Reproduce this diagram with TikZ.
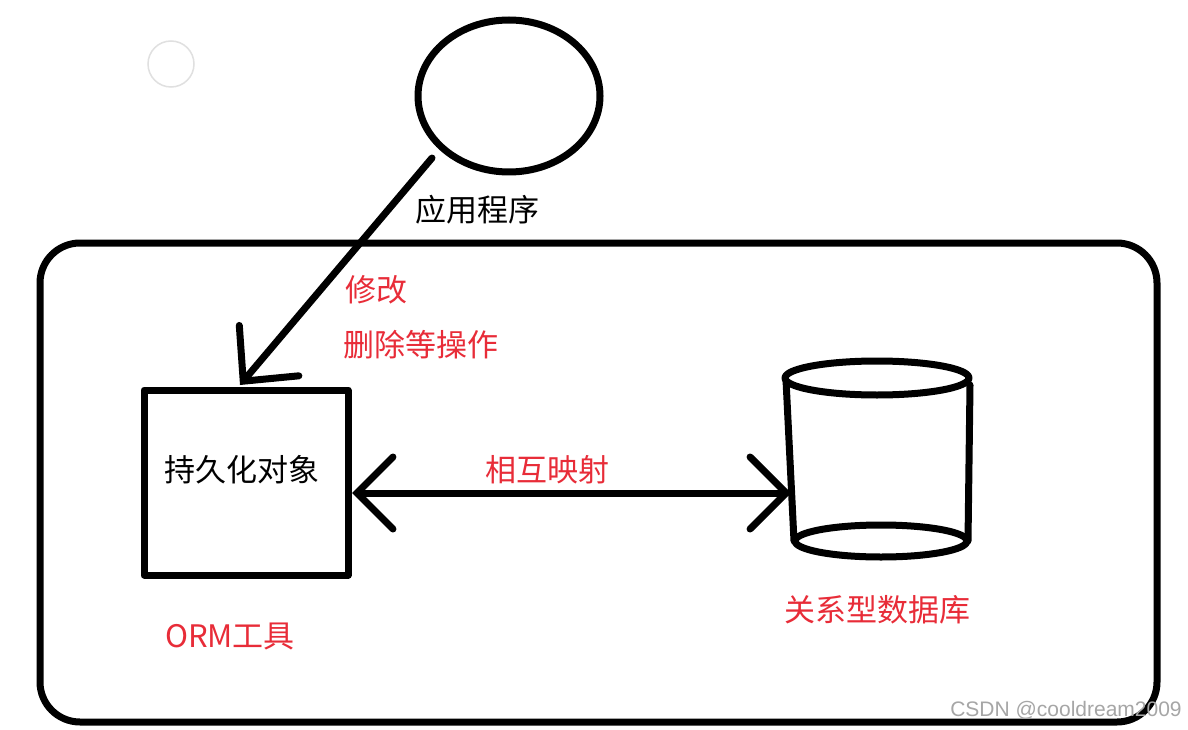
\documentclass[tikz,border=0pt]{standalone}
\usepackage{fontspec}
\newfontfamily\cjk{Noto Sans CJK SC}
\newfontfamily\wm{Liberation Sans}
\usetikzlibrary{arrows.meta,shapes.geometric}
\definecolor{inkred}{RGB}{232,44,56}
\begin{document}
\begin{tikzpicture}[x=1pt,y=-1pt,
  ink/.style={line width=7pt, line cap=round, line join=round},
  lbl/.style={font=\cjk\fontsize{31}{36}\selectfont, inner sep=0pt},
  redlbl/.style={lbl, text=inkred},
  barbtip/.tip={Straight Barb[length=36pt,width=72pt,line cap=round]},
  bigbarb/.tip={Straight Barb[length=40pt,width=78pt,line cap=round]}]
\fill[white] (0,0) rectangle (1188,730);
\useasboundingbox (0,0) rectangle (1188,730);
% faint circle
\node[circle, draw=black!12, line width=1.5pt, minimum size=46pt, inner sep=0pt] (dot) at (171,64) {};
% application circle
\node[draw, ellipse, ink, minimum width=182pt, minimum height=152pt, inner sep=0pt] (app) at (509,96) {};
\node[lbl] (applbl) at (477,210) {应用程序};
% frame
\node[draw, ink, rounded corners=40pt, minimum width=1117pt, minimum height=479pt, inner sep=0pt] (frame) at (598.5,482.5) {};
% persistent object box
\node[draw, ink, minimum width=204pt, minimum height=185pt, inner sep=0pt] (obj) at (246,482.5) {};
\node[lbl] (objlbl) at (242,470) {持久化对象};
\node[redlbl] (orm) at (230,636) {ORM工具};
% database cylinder
\node[minimum width=182pt, minimum height=163pt, inner sep=0pt] (db) at (880,459) {};
\draw[ink] (877,378) ellipse [x radius=92, y radius=17];
\draw[ink] (786,380) -- (794,541);
\draw[ink] (970,385) -- (968,541);
\draw[ink] (881,541) ellipse [x radius=86, y radius=16];
\node[redlbl] (dblbl) at (877,610) {关系型数据库};
% arrows
\coordinate (appstart) at (432,158);
\coordinate (objtop) at (240,385);
\draw[ink, -bigbarb] (appstart) -- (objtop);
\node[redlbl] (mod) at (376,290) {修改};
\node[redlbl] (del) at (421,345) {删除等操作};
\coordinate (mapl) at (352,493);
\coordinate (mapr) at (791,493);
\draw[ink, barbtip-barbtip] (mapl) -- (mapr);
\node[redlbl] (maplbl) at (547,470) {相互映射};
% watermark
\node[font=\wm\fontsize{21}{24}\selectfont, text=black!35, inner sep=0pt] (wmark) at (1066,710) {CSDN @cooldream2009};
\end{tikzpicture}
\end{document}
